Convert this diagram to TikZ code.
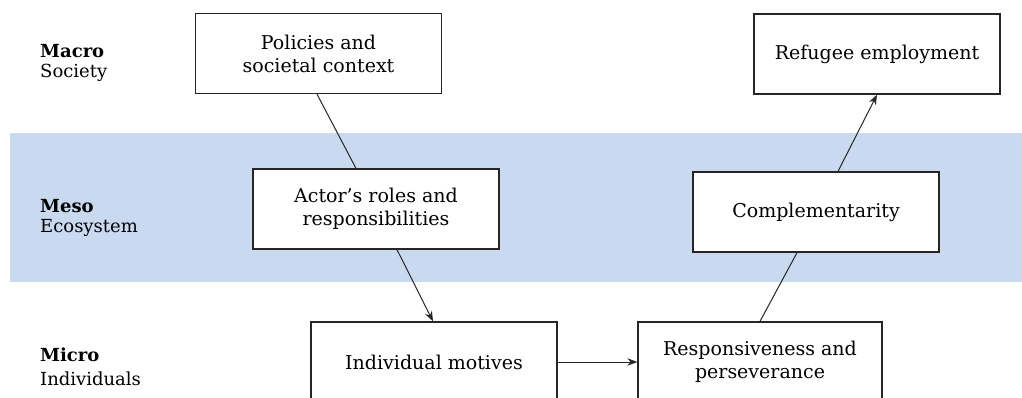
\documentclass[tikz,border=0pt]{standalone}
\usepackage{fontspec}
\setmainfont{DejaVu Serif}
\usetikzlibrary{arrows.meta}
\definecolor{bandblue}{HTML}{C9D9EF}
\tikzset{
  box/.style={draw=black!85, line width=1.3pt, fill=white, minimum width=246pt, minimum height=80pt, align=center, font=\fontsize{19}{23}\selectfont, inner sep=0pt},
  lvl/.style={anchor=west, inner sep=0pt, font=\fontsize{18}{20}\selectfont},
  link/.style={draw=black!85, line width=1pt},
  arr/.style={link, -{Stealth[length=10pt,width=7.5pt]}}
}
\begin{document}
\begin{tikzpicture}[x=1pt,y=-1pt]
\useasboundingbox (0,0) rectangle (1022,397);
\clip (0,0) rectangle (1022,397);
\fill[white] (0,0) rectangle (1022,397);
\fill[bandblue] (10,133) rectangle (1022,282);
\node[box] (pol) at (318.5,53.5) {Policies and\\societal context};
\node[box] (ref) at (877,54) {Refugee employment};
\node[box] (act) at (376,209) {Actor’s roles and\\responsibilities};
\node[box] (com) at (816,212) {Complementarity};
\node[box] (ind) at (434,362) {Individual motives};
\node[box, minimum width=244pt] (res) at (760,362) {Responsiveness and\\perseverance};
\node[lvl] (macro) at (40,51) {\textbf{Macro}};
\node[lvl] (soc) at (40,73) {Society};
\node[lvl] (meso) at (40,206) {\textbf{Meso}};
\node[lvl] (eco) at (40,228) {Ecosystem};
\node[lvl] (micro) at (40,355) {\textbf{Micro}};
\node[lvl] (indv) at (40,379) {Individuals};
\draw[link] (pol.south -| 317,0) -- (act.north -| 356,0);
\draw[arr] (act.south -| 397,0) -- (ind.north -| 433,0);
\draw[arr] (ind.east) -- (res.west);
\draw[link] (res.north -| 760,0) -- (com.south -| 797,0);
\draw[arr] (com.north -| 838,0) -- (ref.south -| 877,0);
\end{tikzpicture}
\end{document}
